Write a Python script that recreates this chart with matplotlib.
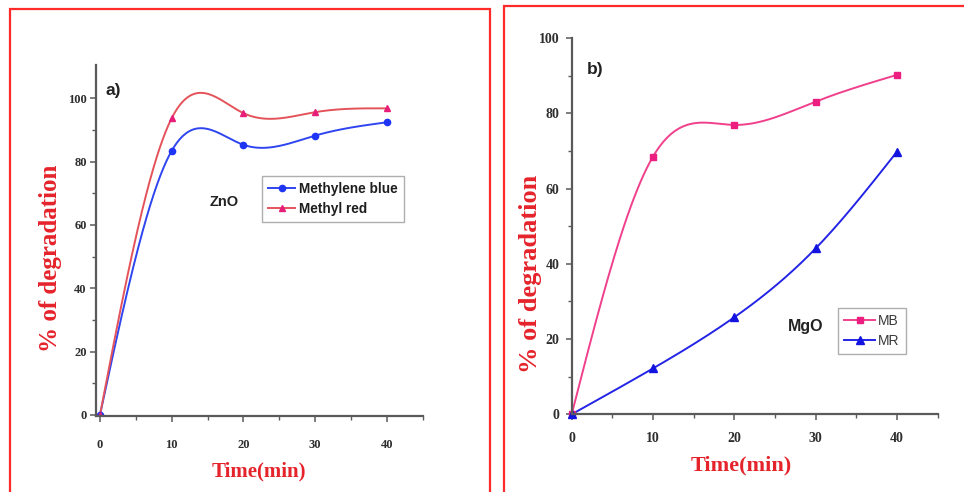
import numpy as np
import matplotlib
matplotlib.use("Agg")
import matplotlib.pyplot as plt
from matplotlib.patches import Rectangle
from matplotlib.lines import Line2D

# ---------------- data ----------------
time_min = [0, 10, 20, 30, 40]
zno_methylene_blue = [0, 83.4, 85.3, 88.2, 92.4]
zno_methyl_red = [0, 93.7, 95.3, 95.6, 96.8]
mgo_mb = [0, 68.5, 76.9, 83.1, 90.2]
mgo_mr = [0, 12.2, 25.8, 44.1, 69.8]
x_ticks = [0, 10, 20, 30, 40]
y_ticks = [0, 20, 40, 60, 80, 100]


def natural_spline(x, y, xs):
    x = np.asarray(x, float)
    y = np.asarray(y, float)
    n = len(x)
    h = np.diff(x)
    A = np.zeros((n, n))
    r = np.zeros(n)
    A[0, 0] = 1
    A[-1, -1] = 1
    for i in range(1, n - 1):
        A[i, i - 1] = h[i - 1]
        A[i, i] = 2 * (h[i - 1] + h[i])
        A[i, i + 1] = h[i]
        r[i] = 3 * ((y[i + 1] - y[i]) / h[i] - (y[i] - y[i - 1]) / h[i - 1])
    c = np.linalg.solve(A, r)
    b = (y[1:] - y[:-1]) / h - h * (2 * c[:-1] + c[1:]) / 3
    d = (c[1:] - c[:-1]) / (3 * h)
    idx = np.clip(np.searchsorted(x, xs, side="right") - 1, 0, n - 2)
    t = xs - x[idx]
    return y[idx] + b[idx] * t + c[idx] * t ** 2 + d[idx] * t ** 3


W, H = 964, 492
fig = plt.figure(figsize=(W / 100, H / 100), dpi=100)

def fx(px):
    return px / W

def fy(py):
    return 1 - py / H

# panel borders
for (x0, y0, x1, y1) in [(10, 8.5, 490, 500), (504, 6, 975, 500)]:
    fig.patches.append(Rectangle((fx(x0), fy(y1)), fx(x1 - x0), fy(y0) - fy(y1),
                                 transform=fig.transFigure, fill=False,
                                 edgecolor="#ff2a2a", linewidth=1.6, zorder=0))

label_red = "#e5232b"
spine_col = "#5a5a5a"
tick_col = "#2e2e2e"
serif = ["Liberation Serif", "DejaVu Serif"]
sans = ["Liberation Sans", "DejaVu Sans"]


def style_axes(ax, fs, xpad, ypad):
    for s in ["top", "right"]:
        ax.spines[s].set_visible(False)
    for s in ["left", "bottom"]:
        ax.spines[s].set_color(spine_col)
        ax.spines[s].set_linewidth(1.6)
    ax.set_xticks(x_ticks)
    ax.set_yticks(y_ticks)
    ax.set_xticks([5, 15, 25, 35, 45], minor=True)
    ax.set_yticks([10, 30, 50, 70, 90], minor=True)
    ax.tick_params(axis="both", which="major", direction="out", length=4, width=1.1,
                   colors=spine_col, labelcolor=tick_col, labelsize=fs)
    ax.tick_params(axis="both", which="minor", direction="out", length=3, width=1.0,
                   colors=spine_col)
    ax.tick_params(axis="x", which="major", pad=xpad)
    ax.tick_params(axis="y", which="major", pad=ypad)
    for lab in ax.get_xticklabels() + ax.get_yticklabels():
        lab.set_fontfamily(serif)
        lab.set_fontweight("bold")


xs = np.linspace(0, 40, 400)

# ---------------- panel a ----------------
ax1 = fig.add_axes([fx(96.4), fy(415.8), fx(422.7 - 96.4), fy(65) - fy(415.8)])
ax1.set_xlim(-0.5, 45)
ax1.set_ylim(-0.3, 110.5)
blue_a = "#2f45f0"
red_a = "#e4535a"
ax1.plot(xs, natural_spline(time_min, zno_methylene_blue, xs), color=blue_a, lw=1.4)
ax1.plot(xs, natural_spline(time_min, zno_methyl_red, xs), color=red_a, lw=1.4)
ax1.plot(time_min, zno_methylene_blue, ls="none", marker="o", ms=4.5, color="#1f35f5")
ax1.plot(time_min, zno_methyl_red, ls="none", marker="^", ms=5, color="#e61e78")
style_axes(ax1, 9, 13, 3)
ax1.set_xlabel("Time(min)", fontsize=15, fontweight="bold", family=serif, color=label_red)
ax1.set_ylabel("% of degradation", fontsize=18, fontweight="bold", family=serif, color=label_red)
ax1.xaxis.set_label_coords(fx(259), fy(471), transform=fig.transFigure)
ax1.yaxis.set_label_coords(fx(51), fy(258), transform=fig.transFigure)
ax1.xaxis.label.set_va("center")
ax1.yaxis.label.set_va("center")
fig.text(fx(113), fy(90.5), "a)", fontsize=12.5, fontweight="bold", family=sans,
         color="#222222", ha="center", va="center")
fig.text(fx(224.5), fy(202.5), "ZnO", fontsize=10.5, fontweight="bold", family=sans,
         color="#222222", ha="center", va="center")
h1 = [Line2D([], [], color=blue_a, lw=1.4, marker="o", ms=4.5, mfc="#1f35f5", mec="#1f35f5"),
      Line2D([], [], color=red_a, lw=1.4, marker="^", ms=5, mfc="#e61e78", mec="#e61e78")]
leg1 = fig.legend(h1, ["Methylene blue", "Methyl red"], loc="upper left",
                  bbox_to_anchor=(fx(262), fy(176)), bbox_transform=fig.transFigure,
                  borderaxespad=0, fancybox=False, frameon=True, handlelength=2.0,
                  handletextpad=0.3, labelspacing=0.45, borderpad=0.45,
                  prop={"family": sans, "size": 9.8, "weight": "bold"})
leg1.get_frame().set_edgecolor("#9a9a9a")
leg1.get_frame().set_linewidth(1.0)
for t in leg1.get_texts():
    t.set_color("#1e1e1e")

# ---------------- panel b ----------------
ax2 = fig.add_axes([fx(571.7), fy(414.3), fx(937.7 - 571.7), fy(38) - fy(414.3)])
ax2.set_xlim(0, 45)
ax2.set_ylim(0, 100)
pink_b = "#f0408c"
blue_b = "#2424e6"
ax2.plot(xs, natural_spline(time_min, mgo_mb, xs), color=pink_b, lw=1.4)
ax2.plot(xs, natural_spline(time_min, mgo_mr, xs), color=blue_b, lw=1.4)
ax2.plot(time_min, mgo_mb, ls="none", marker="s", ms=4.8, color="#ec1f80", clip_on=False)
ax2.plot(time_min, mgo_mr, ls="none", marker="^", ms=5.5, color="#1414e0", clip_on=False)
style_axes(ax2, 10, 9, 5)
ax2.set_xlabel("Time(min)", fontsize=16, fontweight="bold", family=serif, color=label_red)
ax2.set_ylabel("% of degradation", fontsize=19, fontweight="bold", family=serif, color=label_red)
ax2.xaxis.set_label_coords(fx(741.7), fy(465), transform=fig.transFigure)
ax2.yaxis.set_label_coords(fx(531), fy(273.5), transform=fig.transFigure)
ax2.xaxis.label.set_va("center")
ax2.yaxis.label.set_va("center")
fig.text(fx(595), fy(69.5), "b)", fontsize=12.5, fontweight="bold", family=sans,
         color="#222222", ha="center", va="center")
fig.text(fx(805.5), fy(326), "MgO", fontsize=11.5, fontweight="bold", family=sans,
         color="#222222", ha="center", va="center")
h2 = [Line2D([], [], color=pink_b, lw=1.4, marker="s", ms=4.8, mfc="#ec1f80", mec="#ec1f80"),
      Line2D([], [], color=blue_b, lw=1.4, marker="^", ms=5.5, mfc="#1414e0", mec="#1414e0")]
leg2 = fig.legend(h2, ["MB", "MR"], loc="upper left",
                  bbox_to_anchor=(fx(838), fy(308)), bbox_transform=fig.transFigure,
                  borderaxespad=0, fancybox=False, frameon=True, handlelength=2.2,
                  handletextpad=0.25, labelspacing=0.4, borderpad=0.45,
                  prop={"family": sans, "size": 10})
leg2.get_frame().set_edgecolor("#9a9a9a")
leg2.get_frame().set_linewidth(1.0)
for t in leg2.get_texts():
    t.set_color("#3a3a3a")

fig.savefig("out.png", dpi=100, facecolor="white")
